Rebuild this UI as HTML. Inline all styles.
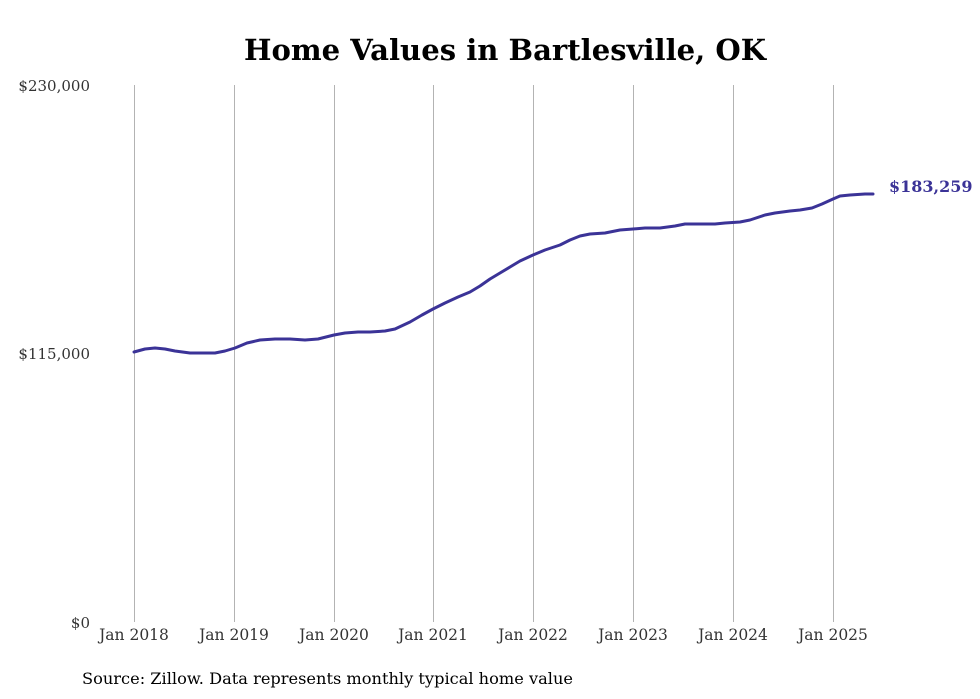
<!DOCTYPE html>
<html><head><meta charset="utf-8"><style>
html,body{margin:0;padding:0;background:#fff;}
svg{display:block;font-family:"DejaVu Serif","Liberation Serif",serif;}
</style></head><body>
<svg width="980" height="699" viewBox="0 0 980 699" xmlns="http://www.w3.org/2000/svg">
<rect width="980" height="699" fill="#fff"/>
<text x="505" y="60" text-anchor="middle" font-size="29" font-weight="bold" fill="#000" textLength="522" lengthAdjust="spacingAndGlyphs">Home Values in Bartlesville, OK</text>
<g stroke="#b3b3b3" stroke-width="1">
<line x1="134.5" y1="85" x2="134.5" y2="622"/>
<line x1="234.5" y1="85" x2="234.5" y2="622"/>
<line x1="334.5" y1="85" x2="334.5" y2="622"/>
<line x1="433.5" y1="85" x2="433.5" y2="622"/>
<line x1="533.5" y1="85" x2="533.5" y2="622"/>
<line x1="633.5" y1="85" x2="633.5" y2="622"/>
<line x1="733.5" y1="85" x2="733.5" y2="622"/>
<line x1="833.5" y1="85" x2="833.5" y2="622"/>
</g>
<g font-size="15" fill="#333" text-anchor="end">
<text x="90" y="91">$230,000</text>
<text x="90" y="359">$115,000</text>
<text x="90" y="628">$0</text>
</g>
<g font-size="15.5" fill="#333" text-anchor="middle">
<text x="134" y="640">Jan 2018</text>
<text x="234" y="640">Jan 2019</text>
<text x="334" y="640">Jan 2020</text>
<text x="433" y="640">Jan 2021</text>
<text x="533" y="640">Jan 2022</text>
<text x="633" y="640">Jan 2023</text>
<text x="733" y="640">Jan 2024</text>
<text x="833" y="640">Jan 2025</text>
</g>
<polyline fill="none" stroke="#3b3397" stroke-width="3" stroke-linejoin="round" stroke-linecap="round"
points="134,352 145,349 155,348 165,349 175,351 190,353 205,353 215,353 225,351 235,348 247,343 260,340 275,339 290,339 305,340 318,339 334,335 345,333 358,332 370,332 385,331 395,329 410,322 422,315 433,309 445,303 458,297 470,292 480,286 490,279 500,273 510,267 520,261 533,255 545,250 560,245 570,240 580,236 590,234 605,233 620,230 633,229 645,228 660,228 675,226 685,224 700,224 715,224 725,223 740,222 750,220 765,215 775,213 790,211 800,210 812,208 822,204 833,199 840,196 850,195 865,194 873,194"/>
<text x="889" y="192" font-size="16" font-weight="bold" fill="#3b3397">$183,259</text>
<text x="82" y="684" font-size="16" fill="#000" textLength="491" lengthAdjust="spacingAndGlyphs">Source: Zillow. Data represents monthly typical home value</text>
</svg>
</body></html>
